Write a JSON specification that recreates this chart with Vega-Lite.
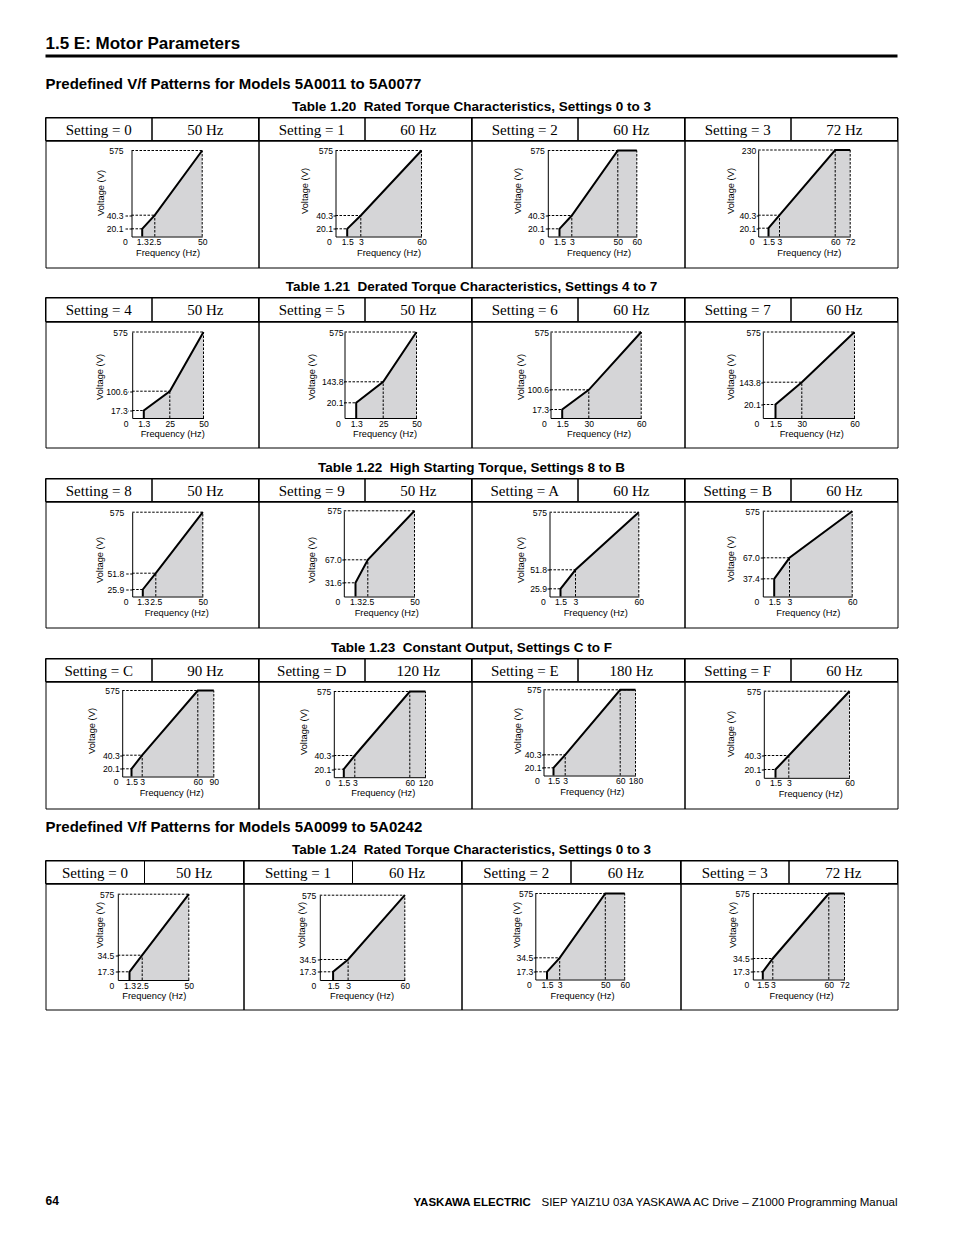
{
"$schema": "https://vega.github.io/schema/vega-lite/v6.json",
"background": "white",
"padding": {"left": 44.5, "top": 0.5, "right": 0, "bottom": 0},
"spacing": 0,
"bounds": "flush",
"datasets": {
"pts": [
{"c":"a0","i":0,"f":1.3,"v":0},{"c":"a0","i":1,"f":1.3,"v":20.1},{"c":"a0","i":2,"f":2.5,"v":40.3},{"c":"a0","i":3,"f":50,"v":575},
{"c":"a1","i":0,"f":1.5,"v":0},{"c":"a1","i":1,"f":1.5,"v":20.1},{"c":"a1","i":2,"f":3,"v":40.3},{"c":"a1","i":3,"f":60,"v":575},
{"c":"a2","i":0,"f":1.5,"v":0},{"c":"a2","i":1,"f":1.5,"v":20.1},{"c":"a2","i":2,"f":3,"v":40.3},{"c":"a2","i":3,"f":50,"v":575},{"c":"a2","i":4,"f":60,"v":575},
{"c":"a3","i":0,"f":1.5,"v":0},{"c":"a3","i":1,"f":1.5,"v":20.1},{"c":"a3","i":2,"f":3,"v":40.3},{"c":"a3","i":3,"f":60,"v":230},{"c":"a3","i":4,"f":72,"v":230},
{"c":"b4","i":0,"f":1.3,"v":0},{"c":"b4","i":1,"f":1.3,"v":17.3},{"c":"b4","i":2,"f":25,"v":100.6},{"c":"b4","i":3,"f":50,"v":575},
{"c":"b5","i":0,"f":1.3,"v":0},{"c":"b5","i":1,"f":1.3,"v":20.1},{"c":"b5","i":2,"f":25,"v":143.8},{"c":"b5","i":3,"f":50,"v":575},
{"c":"b6","i":0,"f":1.5,"v":0},{"c":"b6","i":1,"f":1.5,"v":17.3},{"c":"b6","i":2,"f":30,"v":100.6},{"c":"b6","i":3,"f":60,"v":575},
{"c":"b7","i":0,"f":1.5,"v":0},{"c":"b7","i":1,"f":1.5,"v":20.1},{"c":"b7","i":2,"f":30,"v":143.8},{"c":"b7","i":3,"f":60,"v":575},
{"c":"c8","i":0,"f":1.3,"v":0},{"c":"c8","i":1,"f":1.3,"v":25.9},{"c":"c8","i":2,"f":2.5,"v":51.8},{"c":"c8","i":3,"f":50,"v":575},
{"c":"c9","i":0,"f":1.3,"v":0},{"c":"c9","i":1,"f":1.3,"v":31.6},{"c":"c9","i":2,"f":2.5,"v":67},{"c":"c9","i":3,"f":50,"v":575},
{"c":"cA","i":0,"f":1.5,"v":0},{"c":"cA","i":1,"f":1.5,"v":25.9},{"c":"cA","i":2,"f":3,"v":51.8},{"c":"cA","i":3,"f":60,"v":575},
{"c":"cB","i":0,"f":1.5,"v":0},{"c":"cB","i":1,"f":1.5,"v":37.4},{"c":"cB","i":2,"f":3,"v":67},{"c":"cB","i":3,"f":60,"v":575},
{"c":"dC","i":0,"f":1.5,"v":0},{"c":"dC","i":1,"f":1.5,"v":20.1},{"c":"dC","i":2,"f":3,"v":40.3},{"c":"dC","i":3,"f":60,"v":575},{"c":"dC","i":4,"f":90,"v":575},
{"c":"dD","i":0,"f":1.5,"v":0},{"c":"dD","i":1,"f":1.5,"v":20.1},{"c":"dD","i":2,"f":3,"v":40.3},{"c":"dD","i":3,"f":60,"v":575},{"c":"dD","i":4,"f":120,"v":575},
{"c":"dE","i":0,"f":1.5,"v":0},{"c":"dE","i":1,"f":1.5,"v":20.1},{"c":"dE","i":2,"f":3,"v":40.3},{"c":"dE","i":3,"f":60,"v":575},{"c":"dE","i":4,"f":180,"v":575},
{"c":"dF","i":0,"f":1.5,"v":0},{"c":"dF","i":1,"f":1.5,"v":20.1},{"c":"dF","i":2,"f":3,"v":40.3},{"c":"dF","i":3,"f":60,"v":575},
{"c":"e0","i":0,"f":1.3,"v":0},{"c":"e0","i":1,"f":1.3,"v":17.3},{"c":"e0","i":2,"f":2.5,"v":34.5},{"c":"e0","i":3,"f":50,"v":575},
{"c":"e1","i":0,"f":1.5,"v":0},{"c":"e1","i":1,"f":1.5,"v":17.3},{"c":"e1","i":2,"f":3,"v":34.5},{"c":"e1","i":3,"f":60,"v":575},
{"c":"e2","i":0,"f":1.5,"v":0},{"c":"e2","i":1,"f":1.5,"v":17.3},{"c":"e2","i":2,"f":3,"v":34.5},{"c":"e2","i":3,"f":50,"v":575},{"c":"e2","i":4,"f":60,"v":575},
{"c":"e3","i":0,"f":1.5,"v":0},{"c":"e3","i":1,"f":1.5,"v":17.3},{"c":"e3","i":2,"f":3,"v":34.5},{"c":"e3","i":3,"f":60,"v":575},{"c":"e3","i":4,"f":72,"v":575}
],
"gd": [
{"c":"a0","f":0,"v":20.1,"f2":1.3,"v2":20.1},{"c":"a0","f":0,"v":40.3,"f2":2.5,"v2":40.3},{"c":"a0","f":2.5,"v":0,"f2":2.5,"v2":40.3},{"c":"a0","f":0,"v":575,"f2":50,"v2":575},{"c":"a0","f":50,"v":0,"f2":50,"v2":575},
{"c":"a1","f":0,"v":20.1,"f2":1.5,"v2":20.1},{"c":"a1","f":0,"v":40.3,"f2":3,"v2":40.3},{"c":"a1","f":3,"v":0,"f2":3,"v2":40.3},{"c":"a1","f":0,"v":575,"f2":60,"v2":575},{"c":"a1","f":60,"v":0,"f2":60,"v2":575},
{"c":"a2","f":0,"v":20.1,"f2":1.5,"v2":20.1},{"c":"a2","f":0,"v":40.3,"f2":3,"v2":40.3},{"c":"a2","f":3,"v":0,"f2":3,"v2":40.3},{"c":"a2","f":0,"v":575,"f2":60,"v2":575},{"c":"a2","f":50,"v":0,"f2":50,"v2":575},{"c":"a2","f":60,"v":0,"f2":60,"v2":575},
{"c":"a3","f":0,"v":20.1,"f2":1.5,"v2":20.1},{"c":"a3","f":0,"v":40.3,"f2":3,"v2":40.3},{"c":"a3","f":3,"v":0,"f2":3,"v2":40.3},{"c":"a3","f":0,"v":230,"f2":72,"v2":230},{"c":"a3","f":60,"v":0,"f2":60,"v2":230},{"c":"a3","f":72,"v":0,"f2":72,"v2":230},
{"c":"b4","f":0,"v":17.3,"f2":1.3,"v2":17.3},{"c":"b4","f":0,"v":100.6,"f2":25,"v2":100.6},{"c":"b4","f":25,"v":0,"f2":25,"v2":100.6},{"c":"b4","f":0,"v":575,"f2":50,"v2":575},{"c":"b4","f":50,"v":0,"f2":50,"v2":575},
{"c":"b5","f":0,"v":20.1,"f2":1.3,"v2":20.1},{"c":"b5","f":0,"v":143.8,"f2":25,"v2":143.8},{"c":"b5","f":25,"v":0,"f2":25,"v2":143.8},{"c":"b5","f":0,"v":575,"f2":50,"v2":575},{"c":"b5","f":50,"v":0,"f2":50,"v2":575},
{"c":"b6","f":0,"v":17.3,"f2":1.5,"v2":17.3},{"c":"b6","f":0,"v":100.6,"f2":30,"v2":100.6},{"c":"b6","f":30,"v":0,"f2":30,"v2":100.6},{"c":"b6","f":0,"v":575,"f2":60,"v2":575},{"c":"b6","f":60,"v":0,"f2":60,"v2":575},
{"c":"b7","f":0,"v":20.1,"f2":1.5,"v2":20.1},{"c":"b7","f":0,"v":143.8,"f2":30,"v2":143.8},{"c":"b7","f":30,"v":0,"f2":30,"v2":143.8},{"c":"b7","f":0,"v":575,"f2":60,"v2":575},{"c":"b7","f":60,"v":0,"f2":60,"v2":575},
{"c":"c8","f":0,"v":25.9,"f2":1.3,"v2":25.9},{"c":"c8","f":0,"v":51.8,"f2":2.5,"v2":51.8},{"c":"c8","f":2.5,"v":0,"f2":2.5,"v2":51.8},{"c":"c8","f":0,"v":575,"f2":50,"v2":575},{"c":"c8","f":50,"v":0,"f2":50,"v2":575},
{"c":"c9","f":0,"v":31.6,"f2":1.3,"v2":31.6},{"c":"c9","f":0,"v":67,"f2":2.5,"v2":67},{"c":"c9","f":2.5,"v":0,"f2":2.5,"v2":67},{"c":"c9","f":0,"v":575,"f2":50,"v2":575},{"c":"c9","f":50,"v":0,"f2":50,"v2":575},
{"c":"cA","f":0,"v":25.9,"f2":1.5,"v2":25.9},{"c":"cA","f":0,"v":51.8,"f2":3,"v2":51.8},{"c":"cA","f":3,"v":0,"f2":3,"v2":51.8},{"c":"cA","f":0,"v":575,"f2":60,"v2":575},{"c":"cA","f":60,"v":0,"f2":60,"v2":575},
{"c":"cB","f":0,"v":37.4,"f2":1.5,"v2":37.4},{"c":"cB","f":0,"v":67,"f2":3,"v2":67},{"c":"cB","f":3,"v":0,"f2":3,"v2":67},{"c":"cB","f":0,"v":575,"f2":60,"v2":575},{"c":"cB","f":60,"v":0,"f2":60,"v2":575},
{"c":"dC","f":0,"v":20.1,"f2":1.5,"v2":20.1},{"c":"dC","f":0,"v":40.3,"f2":3,"v2":40.3},{"c":"dC","f":3,"v":0,"f2":3,"v2":40.3},{"c":"dC","f":0,"v":575,"f2":90,"v2":575},{"c":"dC","f":60,"v":0,"f2":60,"v2":575},{"c":"dC","f":90,"v":0,"f2":90,"v2":575},
{"c":"dD","f":0,"v":20.1,"f2":1.5,"v2":20.1},{"c":"dD","f":0,"v":40.3,"f2":3,"v2":40.3},{"c":"dD","f":3,"v":0,"f2":3,"v2":40.3},{"c":"dD","f":0,"v":575,"f2":120,"v2":575},{"c":"dD","f":60,"v":0,"f2":60,"v2":575},{"c":"dD","f":120,"v":0,"f2":120,"v2":575},
{"c":"dE","f":0,"v":20.1,"f2":1.5,"v2":20.1},{"c":"dE","f":0,"v":40.3,"f2":3,"v2":40.3},{"c":"dE","f":3,"v":0,"f2":3,"v2":40.3},{"c":"dE","f":0,"v":575,"f2":180,"v2":575},{"c":"dE","f":60,"v":0,"f2":60,"v2":575},{"c":"dE","f":180,"v":0,"f2":180,"v2":575},
{"c":"dF","f":0,"v":20.1,"f2":1.5,"v2":20.1},{"c":"dF","f":0,"v":40.3,"f2":3,"v2":40.3},{"c":"dF","f":3,"v":0,"f2":3,"v2":40.3},{"c":"dF","f":0,"v":575,"f2":60,"v2":575},{"c":"dF","f":60,"v":0,"f2":60,"v2":575},
{"c":"e0","f":0,"v":17.3,"f2":1.3,"v2":17.3},{"c":"e0","f":0,"v":34.5,"f2":2.5,"v2":34.5},{"c":"e0","f":2.5,"v":0,"f2":2.5,"v2":34.5},{"c":"e0","f":0,"v":575,"f2":50,"v2":575},{"c":"e0","f":50,"v":0,"f2":50,"v2":575},
{"c":"e1","f":0,"v":17.3,"f2":1.5,"v2":17.3},{"c":"e1","f":0,"v":34.5,"f2":3,"v2":34.5},{"c":"e1","f":3,"v":0,"f2":3,"v2":34.5},{"c":"e1","f":0,"v":575,"f2":60,"v2":575},{"c":"e1","f":60,"v":0,"f2":60,"v2":575},
{"c":"e2","f":0,"v":17.3,"f2":1.5,"v2":17.3},{"c":"e2","f":0,"v":34.5,"f2":3,"v2":34.5},{"c":"e2","f":3,"v":0,"f2":3,"v2":34.5},{"c":"e2","f":0,"v":575,"f2":60,"v2":575},{"c":"e2","f":50,"v":0,"f2":50,"v2":575},{"c":"e2","f":60,"v":0,"f2":60,"v2":575},
{"c":"e3","f":0,"v":17.3,"f2":1.5,"v2":17.3},{"c":"e3","f":0,"v":34.5,"f2":3,"v2":34.5},{"c":"e3","f":3,"v":0,"f2":3,"v2":34.5},{"c":"e3","f":0,"v":575,"f2":72,"v2":575},{"c":"e3","f":60,"v":0,"f2":60,"v2":575},{"c":"e3","f":72,"v":0,"f2":72,"v2":575}
]
},
"vconcat": [
{"width":852,"height":54,"data":{"values":[]},"mark":"rect","view":{"stroke":null}},
{"width":852,"height":3,"data":{"values":[{}]},"mark":{"type":"rect","color":"black"},"view":{"stroke":null},"title":{"text":"1.5 E: Motor Parameters","anchor":"start","frame":"group","fontSize":17,"offset":1.6}},
{"width":852,"height":40,"data":{"values":[]},"mark":"rect","view":{"stroke":null}},
{"width":852,"height":18,"data":{"values":[]},"mark":"rect","view":{"stroke":null},"title":{"text":"Predefined V/f Patterns for Models 5A0011 to 5A0077","anchor":"start","frame":"group","fontSize":15,"offset":5.5}},
{"width":852,"height":2,"data":{"values":[]},"mark":"rect","view":{"stroke":null},"title":{"text":"Table 1.20\u00a0 Rated Torque Characteristics, Settings 0 to 3","anchor":"middle","frame":"group","offset":2.5}},
{"spacing":0,"bounds":"flush","hconcat":[
{"width":213,"height":23,"data":{"values":[{"k":"a","t":"Setting = 0"},{"k":"b","t":"50 Hz"}]},"encoding":{"x":{"field":"k","type":"nominal","scale":{"paddingInner":0,"paddingOuter":0},"axis":null}},"layer":[{"mark":{"type":"rect","filled":false,"color":"black","strokeWidth":1}},{"mark":{"type":"text","font":"Liberation Serif","fontSize":15,"color":"black","dy":0.5}, "encoding":{"text":{"field":"t"}}}]},
{"width":213,"height":23,"data":{"values":[{"k":"a","t":"Setting = 1"},{"k":"b","t":"60 Hz"}]},"encoding":{"x":{"field":"k","type":"nominal","scale":{"paddingInner":0,"paddingOuter":0},"axis":null}},"layer":[{"mark":{"type":"rect","filled":false,"color":"black","strokeWidth":1}},{"mark":{"type":"text","font":"Liberation Serif","fontSize":15,"color":"black","dy":0.5},"encoding":{"text":{"field":"t"}}}]},
{"width":213,"height":23,"data":{"values":[{"k":"a","t":"Setting = 2"},{"k":"b","t":"60 Hz"}]},"encoding":{"x":{"field":"k","type":"nominal","scale":{"paddingInner":0,"paddingOuter":0},"axis":null}},"layer":[{"mark":{"type":"rect","filled":false,"color":"black","strokeWidth":1}},{"mark":{"type":"text","font":"Liberation Serif","fontSize":15,"color":"black","dy":0.5},"encoding":{"text":{"field":"t"}}}]},
{"width":213,"height":23,"data":{"values":[{"k":"a","t":"Setting = 3"},{"k":"b","t":"72 Hz"}]},"encoding":{"x":{"field":"k","type":"nominal","scale":{"paddingInner":0,"paddingOuter":0},"axis":null}},"layer":[{"mark":{"type":"rect","filled":false,"color":"black","strokeWidth":1}},{"mark":{"type":"text","font":"Liberation Serif","fontSize":15,"color":"black","dy":0.5},"encoding":{"text":{"field":"t"}}}]}
]},
{"width":852,"height":23,"data":{"values":[]},"mark":"rect","view":{"stroke":null}},
{"spacing":0,"bounds":"flush","hconcat":[
{"width":213,"height":127,"encoding":{"x":{"field":"f","type":"quantitative","scale":{"domain":[0,1.3,2.5,50],"range":[86,96.7,109.3,156.7],"nice":false,"zero":false},"axis":{"values":[0,1.3,2.5,50],"format":".1~f","offset":-31,"title":"Frequency (Hz)","titleX":122,"titleY":15.5,"zindex":1,"labelOffset":{"condition":{"test":"datum.value===0","value":-6.5},"value":0}}},"y":{"field":"v","type":"quantitative","scale":{"domain":[0,20.1,40.3,575],"range":[96,88.3,74.7,10],"nice":false,"zero":false},"axis":{"values":[20.1,40.3,575],"labelExpr":"datum.value>200?format(datum.value,'d'):format(datum.value,'.1f')","offset":-86,"tickSize":8,"tickOpacity":{"condition":{"test":"datum.value>200","value":0},"value":1},"title":"Voltage (V)","titleX":-31,"titleY":52,"zindex":1}}},"layer":[{"data":{"name":"pts"},"transform":[{"filter":"datum.c==='a0' && datum.i>0"}],"mark":{"type":"area","color":"#d5d5d7","opacity":1},"encoding":{"y2":{"datum":0}}},{"data":{"name":"gd"},"transform":[{"filter":"datum.c==='a0'"}],"mark":{"type":"rule","color":"black","strokeWidth":1,"strokeDash":[2.5,1.5]},"encoding":{"x2":{"field":"f2"},"y2":{"field":"v2"}}},{"data":{"name":"pts"},"transform":[{"filter":"datum.c==='a0'"}],"mark":{"type":"line","color":"black","strokeWidth":2},"encoding":{"order":{"field":"i","type":"quantitative"}}}]},
{"width":213,"height":127,"encoding":{"x":{"field":"f","type":"quantitative","scale":{"domain":[0,1.5,3,60],"range":[77,88.7,102.3,163],"nice":false,"zero":false},"axis":{"values":[0,1.5,3,60],"format":".1~f","offset":-31,"title":"Frequency (Hz)","titleX":130,"titleY":15.5,"zindex":1,"labelOffset":{"condition":{"test":"datum.value===0","value":-6.5},"value":0}}},"y":{"field":"v","type":"quantitative","scale":{"domain":[0,20.1,40.3,575],"range":[96,88.3,75,10],"nice":false,"zero":false},"axis":{"values":[20.1,40.3,575],"labelExpr":"datum.value>200?format(datum.value,'d'):format(datum.value,'.1f')","offset":-77,"tickSize":2.5,"tickOpacity":{"condition":{"test":"datum.value>200","value":0},"value":1},"title":"Voltage (V)","titleX":-31.5,"titleY":50,"zindex":1}}},"layer":[{"data":{"name":"pts"},"transform":[{"filter":"datum.c==='a1' && datum.i>0"}],"mark":{"type":"area","color":"#d5d5d7","opacity":1},"encoding":{"y2":{"datum":0}}},{"data":{"name":"gd"},"transform":[{"filter":"datum.c==='a1'"}],"mark":{"type":"rule","color":"black","strokeWidth":1,"strokeDash":[2.5,1.5]},"encoding":{"x2":{"field":"f2"},"y2":{"field":"v2"}}},{"data":{"name":"pts"},"transform":[{"filter":"datum.c==='a1'"}],"mark":{"type":"line","color":"black","strokeWidth":2},"encoding":{"order":{"field":"i","type":"quantitative"}}}]},
{"width":213,"height":127,"encoding":{"x":{"field":"f","type":"quantitative","scale":{"domain":[0,1.5,3,50,60],"range":[76.3,88,100.3,146.3,165.3],"nice":false,"zero":false},"axis":{"values":[0,1.5,3,50,60],"format":".1~f","offset":-31,"title":"Frequency (Hz)","titleX":127,"titleY":15.5,"zindex":1,"labelOffset":{"condition":{"test":"datum.value===0","value":-6.5},"value":0}}},"y":{"field":"v","type":"quantitative","scale":{"domain":[0,20.1,40.3,575],"range":[96,88.3,75,10],"nice":false,"zero":false},"axis":{"values":[20.1,40.3,575],"labelExpr":"datum.value>200?format(datum.value,'d'):format(datum.value,'.1f')","offset":-76.3,"tickSize":3,"tickOpacity":{"condition":{"test":"datum.value>200","value":0},"value":1},"title":"Voltage (V)","titleX":-30.8,"titleY":50,"zindex":1}}},"layer":[{"data":{"name":"pts"},"transform":[{"filter":"datum.c==='a2' && datum.i>0"}],"mark":{"type":"area","color":"#d5d5d7","opacity":1},"encoding":{"y2":{"datum":0}}},{"data":{"name":"gd"},"transform":[{"filter":"datum.c==='a2'"}],"mark":{"type":"rule","color":"black","strokeWidth":1,"strokeDash":[2.5,1.5]},"encoding":{"x2":{"field":"f2"},"y2":{"field":"v2"}}},{"data":{"name":"pts"},"transform":[{"filter":"datum.c==='a2'"}],"mark":{"type":"line","color":"black","strokeWidth":2},"encoding":{"order":{"field":"i","type":"quantitative"}}}]},
{"width":213,"height":127,"encoding":{"x":{"field":"f","type":"quantitative","scale":{"domain":[0,1.5,3,60,72],"range":[73.7,84,95,150.7,165.7],"nice":false,"zero":false},"axis":{"values":[0,1.5,3,60,72],"format":".1~f","offset":-31,"title":"Frequency (Hz)","titleX":124.3,"titleY":15.5,"zindex":1,"labelOffset":{"condition":{"test":"datum.value===0","value":-6.5},"value":0}}},"y":{"field":"v","type":"quantitative","scale":{"domain":[0,20.1,40.3,230],"range":[96,87.7,74.7,9.5],"nice":false,"zero":false},"axis":{"values":[20.1,40.3,230],"labelExpr":"datum.value>200?format(datum.value,'d'):format(datum.value,'.1f')","offset":-73.7,"tickSize":2,"tickOpacity":{"condition":{"test":"datum.value>200","value":0},"value":1},"title":"Voltage (V)","titleX":-28,"titleY":50,"zindex":1}}},"layer":[{"data":{"name":"pts"},"transform":[{"filter":"datum.c==='a3' && datum.i>0"}],"mark":{"type":"area","color":"#d5d5d7","opacity":1},"encoding":{"y2":{"datum":0}}},{"data":{"name":"gd"},"transform":[{"filter":"datum.c==='a3'"}],"mark":{"type":"rule","color":"black","strokeWidth":1,"strokeDash":[2.5,1.5]},"encoding":{"x2":{"field":"f2"},"y2":{"field":"v2"}}},{"data":{"name":"pts"},"transform":[{"filter":"datum.c==='a3'"}],"mark":{"type":"line","color":"black","strokeWidth":2},"encoding":{"order":{"field":"i","type":"quantitative"}}}]}
]},
{"width":852,"height":127,"data":{"values":[]},"mark":"rect","view":{"stroke":null}},
{"width":852,"height":28,"data":{"values":[]},"mark":"rect","view":{"stroke":null}},
{"width":852,"height":2,"data":{"values":[]},"mark":"rect","view":{"stroke":null},"title":{"text":"Table 1.21\u00a0 Derated Torque Characteristics, Settings 4 to 7","anchor":"middle","frame":"group","offset":2.5}},
{"spacing":0,"bounds":"flush","hconcat":[
{"width":213,"height":24,"data":{"values":[{"k":"a","t":"Setting = 4"},{"k":"b","t":"50 Hz"}]},"encoding":{"x":{"field":"k","type":"nominal","scale":{"paddingInner":0,"paddingOuter":0},"axis":null}},"layer":[{"mark":{"type":"rect","filled":false,"color":"black","strokeWidth":1}},{"mark":{"type":"text","font":"Liberation Serif","fontSize":15,"color":"black","dy":0.5},"encoding":{"text":{"field":"t"}}}]},
{"width":213,"height":24,"data":{"values":[{"k":"a","t":"Setting = 5"},{"k":"b","t":"50 Hz"}]},"encoding":{"x":{"field":"k","type":"nominal","scale":{"paddingInner":0,"paddingOuter":0},"axis":null}},"layer":[{"mark":{"type":"rect","filled":false,"color":"black","strokeWidth":1}},{"mark":{"type":"text","font":"Liberation Serif","fontSize":15,"color":"black","dy":0.5},"encoding":{"text":{"field":"t"}}}]},
{"width":213,"height":24,"data":{"values":[{"k":"a","t":"Setting = 6"},{"k":"b","t":"60 Hz"}]},"encoding":{"x":{"field":"k","type":"nominal","scale":{"paddingInner":0,"paddingOuter":0},"axis":null}},"layer":[{"mark":{"type":"rect","filled":false,"color":"black","strokeWidth":1}},{"mark":{"type":"text","font":"Liberation Serif","fontSize":15,"color":"black","dy":0.5},"encoding":{"text":{"field":"t"}}}]},
{"width":213,"height":24,"data":{"values":[{"k":"a","t":"Setting = 7"},{"k":"b","t":"60 Hz"}]},"encoding":{"x":{"field":"k","type":"nominal","scale":{"paddingInner":0,"paddingOuter":0},"axis":null}},"layer":[{"mark":{"type":"rect","filled":false,"color":"black","strokeWidth":1}},{"mark":{"type":"text","font":"Liberation Serif","fontSize":15,"color":"black","dy":0.5},"encoding":{"text":{"field":"t"}}}]}
]},
{"width":852,"height":24,"data":{"values":[]},"mark":"rect","view":{"stroke":null}},
{"spacing":0,"bounds":"flush","hconcat":[
{"width":213,"height":126,"encoding":{"x":{"field":"f","type":"quantitative","scale":{"domain":[0,1.3,25,50],"range":[86.7,98.3,124.3,158],"nice":false,"zero":false},"axis":{"values":[0,1.3,25,50],"format":".1~f","offset":-29.5,"title":"Frequency (Hz)","titleX":126.7,"titleY":15.5,"zindex":1,"labelOffset":{"condition":{"test":"datum.value===0","value":-6.5},"value":0}}},"y":{"field":"v","type":"quantitative","scale":{"domain":[0,17.3,100.6,575],"range":[96.5,89,69.7,10.5],"nice":false,"zero":false},"axis":{"values":[17.3,100.6,575],"labelExpr":"datum.value>200?format(datum.value,'d'):format(datum.value,'.1f')","offset":-86.7,"tickSize":4.5,"tickOpacity":{"condition":{"test":"datum.value>200","value":0},"value":1},"title":"Voltage (V)","titleX":-32.5,"titleY":55,"zindex":1}}},"layer":[{"data":{"name":"pts"},"transform":[{"filter":"datum.c==='b4' && datum.i>0"}],"mark":{"type":"area","color":"#d5d5d7","opacity":1},"encoding":{"y2":{"datum":0}}},{"data":{"name":"gd"},"transform":[{"filter":"datum.c==='b4'"}],"mark":{"type":"rule","color":"black","strokeWidth":1,"strokeDash":[2.5,1.5]},"encoding":{"x2":{"field":"f2"},"y2":{"field":"v2"}}},{"data":{"name":"pts"},"transform":[{"filter":"datum.c==='b4'"}],"mark":{"type":"line","color":"black","strokeWidth":2},"encoding":{"order":{"field":"i","type":"quantitative"}}}]},
{"width":213,"height":126,"encoding":{"x":{"field":"f","type":"quantitative","scale":{"domain":[0,1.3,25,50],"range":[86,97.7,124.7,158],"nice":false,"zero":false},"axis":{"values":[0,1.3,25,50],"format":".1~f","offset":-29.5,"title":"Frequency (Hz)","titleX":126,"titleY":15.5,"zindex":1,"labelOffset":{"condition":{"test":"datum.value===0","value":-6.5},"value":0}}},"y":{"field":"v","type":"quantitative","scale":{"domain":[0,20.1,143.8,575],"range":[96.5,81.3,60.3,10.5],"nice":false,"zero":false},"axis":{"values":[20.1,143.8,575],"labelExpr":"datum.value>200?format(datum.value,'d'):format(datum.value,'.1f')","offset":-86,"tickSize":1,"tickOpacity":{"condition":{"test":"datum.value>200","value":0},"value":1},"title":"Voltage (V)","titleX":-33,"titleY":55,"zindex":1}}},"layer":[{"data":{"name":"pts"},"transform":[{"filter":"datum.c==='b5' && datum.i>0"}],"mark":{"type":"area","color":"#d5d5d7","opacity":1},"encoding":{"y2":{"datum":0}}},{"data":{"name":"gd"},"transform":[{"filter":"datum.c==='b5'"}],"mark":{"type":"rule","color":"black","strokeWidth":1,"strokeDash":[2.5,1.5]},"encoding":{"x2":{"field":"f2"},"y2":{"field":"v2"}}},{"data":{"name":"pts"},"transform":[{"filter":"datum.c==='b5'"}],"mark":{"type":"line","color":"black","strokeWidth":2},"encoding":{"order":{"field":"i","type":"quantitative"}}}]},
{"width":213,"height":126,"encoding":{"x":{"field":"f","type":"quantitative","scale":{"domain":[0,1.5,30,60],"range":[79,90.7,117.3,169.7],"nice":false,"zero":false},"axis":{"values":[0,1.5,30,60],"format":".1~f","offset":-29.5,"title":"Frequency (Hz)","titleX":127,"titleY":15.5,"zindex":1,"labelOffset":{"condition":{"test":"datum.value===0","value":-6.5},"value":0}}},"y":{"field":"v","type":"quantitative","scale":{"domain":[0,17.3,100.6,575],"range":[96.5,88,68.3,10.5],"nice":false,"zero":false},"axis":{"values":[17.3,100.6,575],"labelExpr":"datum.value>200?format(datum.value,'d'):format(datum.value,'.1f')","offset":-79,"tickSize":1.5,"tickOpacity":{"condition":{"test":"datum.value>200","value":0},"value":1},"title":"Voltage (V)","titleX":-30.2,"titleY":55,"zindex":1}}},"layer":[{"data":{"name":"pts"},"transform":[{"filter":"datum.c==='b6' && datum.i>0"}],"mark":{"type":"area","color":"#d5d5d7","opacity":1},"encoding":{"y2":{"datum":0}}},{"data":{"name":"gd"},"transform":[{"filter":"datum.c==='b6'"}],"mark":{"type":"rule","color":"black","strokeWidth":1,"strokeDash":[2.5,1.5]},"encoding":{"x2":{"field":"f2"},"y2":{"field":"v2"}}},{"data":{"name":"pts"},"transform":[{"filter":"datum.c==='b6'"}],"mark":{"type":"line","color":"black","strokeWidth":2},"encoding":{"order":{"field":"i","type":"quantitative"}}}]},
{"width":213,"height":126,"encoding":{"x":{"field":"f","type":"quantitative","scale":{"domain":[0,1.5,30,60],"range":[78.3,91,117.3,170],"nice":false,"zero":false},"axis":{"values":[0,1.5,30,60],"format":".1~f","offset":-29.5,"title":"Frequency (Hz)","titleX":126.7,"titleY":15.5,"zindex":1,"labelOffset":{"condition":{"test":"datum.value===0","value":-6.5},"value":0}}},"y":{"field":"v","type":"quantitative","scale":{"domain":[0,20.1,143.8,575],"range":[96.5,83,60.7,10.5],"nice":false,"zero":false},"axis":{"values":[20.1,143.8,575],"labelExpr":"datum.value>200?format(datum.value,'d'):format(datum.value,'.1f')","offset":-78.3,"tickSize":2,"tickOpacity":{"condition":{"test":"datum.value>200","value":0},"value":1},"title":"Voltage (V)","titleX":-32.5,"titleY":55,"zindex":1}}},"layer":[{"data":{"name":"pts"},"transform":[{"filter":"datum.c==='b7' && datum.i>0"}],"mark":{"type":"area","color":"#d5d5d7","opacity":1},"encoding":{"y2":{"datum":0}}},{"data":{"name":"gd"},"transform":[{"filter":"datum.c==='b7'"}],"mark":{"type":"rule","color":"black","strokeWidth":1,"strokeDash":[2.5,1.5]},"encoding":{"x2":{"field":"f2"},"y2":{"field":"v2"}}},{"data":{"name":"pts"},"transform":[{"filter":"datum.c==='b7'"}],"mark":{"type":"line","color":"black","strokeWidth":2},"encoding":{"order":{"field":"i","type":"quantitative"}}}]}
]},
{"width":852,"height":126,"data":{"values":[]},"mark":"rect","view":{"stroke":null}},
{"width":852,"height":29,"data":{"values":[]},"mark":"rect","view":{"stroke":null}},
{"width":852,"height":2,"data":{"values":[]},"mark":"rect","view":{"stroke":null},"title":{"text":"Table 1.22\u00a0 High Starting Torque, Settings 8 to B","anchor":"middle","frame":"group","offset":2.5}},
{"spacing":0,"bounds":"flush","hconcat":[
{"width":213,"height":23,"data":{"values":[{"k":"a","t":"Setting = 8"},{"k":"b","t":"50 Hz"}]},"encoding":{"x":{"field":"k","type":"nominal","scale":{"paddingInner":0,"paddingOuter":0},"axis":null}},"layer":[{"mark":{"type":"rect","filled":false,"color":"black","strokeWidth":1}},{"mark":{"type":"text","font":"Liberation Serif","fontSize":15,"color":"black","dy":0.5},"encoding":{"text":{"field":"t"}}}]},
{"width":213,"height":23,"data":{"values":[{"k":"a","t":"Setting = 9"},{"k":"b","t":"50 Hz"}]},"encoding":{"x":{"field":"k","type":"nominal","scale":{"paddingInner":0,"paddingOuter":0},"axis":null}},"layer":[{"mark":{"type":"rect","filled":false,"color":"black","strokeWidth":1}},{"mark":{"type":"text","font":"Liberation Serif","fontSize":15,"color":"black","dy":0.5},"encoding":{"text":{"field":"t"}}}]},
{"width":213,"height":23,"data":{"values":[{"k":"a","t":"Setting = A"},{"k":"b","t":"60 Hz"}]},"encoding":{"x":{"field":"k","type":"nominal","scale":{"paddingInner":0,"paddingOuter":0},"axis":null}},"layer":[{"mark":{"type":"rect","filled":false,"color":"black","strokeWidth":1}},{"mark":{"type":"text","font":"Liberation Serif","fontSize":15,"color":"black","dy":0.5},"encoding":{"text":{"field":"t"}}}]},
{"width":213,"height":23,"data":{"values":[{"k":"a","t":"Setting = B"},{"k":"b","t":"60 Hz"}]},"encoding":{"x":{"field":"k","type":"nominal","scale":{"paddingInner":0,"paddingOuter":0},"axis":null}},"layer":[{"mark":{"type":"rect","filled":false,"color":"black","strokeWidth":1}},{"mark":{"type":"text","font":"Liberation Serif","fontSize":15,"color":"black","dy":0.5},"encoding":{"text":{"field":"t"}}}]}
]},
{"width":852,"height":23,"data":{"values":[]},"mark":"rect","view":{"stroke":null}},
{"spacing":0,"bounds":"flush","hconcat":[
{"width":213,"height":126,"encoding":{"x":{"field":"f","type":"quantitative","scale":{"domain":[0,1.3,2.5,50],"range":[86.7,97.3,110.3,157.3],"nice":false,"zero":false},"axis":{"values":[0,1.3,2.5,50],"format":".1~f","offset":-31,"title":"Frequency (Hz)","titleX":130.7,"titleY":15.5,"zindex":1,"labelOffset":{"condition":{"test":"datum.value===0","value":-6.5},"value":0}}},"y":{"field":"v","type":"quantitative","scale":{"domain":[0,25.9,51.8,575],"range":[95,88,71.7,10.7],"nice":false,"zero":false},"axis":{"values":[25.9,51.8,575],"labelExpr":"datum.value>200?format(datum.value,'d'):format(datum.value,'.1f')","offset":-86.7,"tickSize":8,"tickOpacity":{"condition":{"test":"datum.value>200","value":0},"value":1},"title":"Voltage (V)","titleX":-32.5,"titleY":58,"zindex":1}}},"layer":[{"data":{"name":"pts"},"transform":[{"filter":"datum.c==='c8' && datum.i>0"}],"mark":{"type":"area","color":"#d5d5d7","opacity":1},"encoding":{"y2":{"datum":0}}},{"data":{"name":"gd"},"transform":[{"filter":"datum.c==='c8'"}],"mark":{"type":"rule","color":"black","strokeWidth":1,"strokeDash":[2.5,1.5]},"encoding":{"x2":{"field":"f2"},"y2":{"field":"v2"}}},{"data":{"name":"pts"},"transform":[{"filter":"datum.c==='c8'"}],"mark":{"type":"line","color":"black","strokeWidth":2},"encoding":{"order":{"field":"i","type":"quantitative"}}}]},
{"width":213,"height":126,"encoding":{"x":{"field":"f","type":"quantitative","scale":{"domain":[0,1.3,2.5,50],"range":[85.3,97,109.3,156],"nice":false,"zero":false},"axis":{"values":[0,1.3,2.5,50],"format":".1~f","offset":-31,"title":"Frequency (Hz)","titleX":127.7,"titleY":15.5,"zindex":1,"labelOffset":{"condition":{"test":"datum.value===0","value":-6.5},"value":0}}},"y":{"field":"v","type":"quantitative","scale":{"domain":[0,31.6,67,575],"range":[95,81.3,58.3,9.3],"nice":false,"zero":false},"axis":{"values":[31.6,67,575],"labelExpr":"datum.value>200?format(datum.value,'d'):format(datum.value,'.1f')","offset":-85.3,"tickSize":2,"tickOpacity":{"condition":{"test":"datum.value>200","value":0},"value":1},"title":"Voltage (V)","titleX":-32.5,"titleY":58,"zindex":1}}},"layer":[{"data":{"name":"pts"},"transform":[{"filter":"datum.c==='c9' && datum.i>0"}],"mark":{"type":"area","color":"#d5d5d7","opacity":1},"encoding":{"y2":{"datum":0}}},{"data":{"name":"gd"},"transform":[{"filter":"datum.c==='c9'"}],"mark":{"type":"rule","color":"black","strokeWidth":1,"strokeDash":[2.5,1.5]},"encoding":{"x2":{"field":"f2"},"y2":{"field":"v2"}}},{"data":{"name":"pts"},"transform":[{"filter":"datum.c==='c9'"}],"mark":{"type":"line","color":"black","strokeWidth":2},"encoding":{"order":{"field":"i","type":"quantitative"}}}]},
{"width":213,"height":126,"encoding":{"x":{"field":"f","type":"quantitative","scale":{"domain":[0,1.5,3,60],"range":[78,89,104,167.3],"nice":false,"zero":false},"axis":{"values":[0,1.5,3,60],"format":".1~f","offset":-31,"title":"Frequency (Hz)","titleX":123.7,"titleY":15.5,"zindex":1,"labelOffset":{"condition":{"test":"datum.value===0","value":-6.5},"value":0}}},"y":{"field":"v","type":"quantitative","scale":{"domain":[0,25.9,51.8,575],"range":[95,87.3,68.3,10.7],"nice":false,"zero":false},"axis":{"values":[25.9,51.8,575],"labelExpr":"datum.value>200?format(datum.value,'d'):format(datum.value,'.1f')","offset":-78,"tickSize":2.5,"tickOpacity":{"condition":{"test":"datum.value>200","value":0},"value":1},"title":"Voltage (V)","titleX":-29.2,"titleY":58,"zindex":1}}},"layer":[{"data":{"name":"pts"},"transform":[{"filter":"datum.c==='cA' && datum.i>0"}],"mark":{"type":"area","color":"#d5d5d7","opacity":1},"encoding":{"y2":{"datum":0}}},{"data":{"name":"gd"},"transform":[{"filter":"datum.c==='cA'"}],"mark":{"type":"rule","color":"black","strokeWidth":1,"strokeDash":[2.5,1.5]},"encoding":{"x2":{"field":"f2"},"y2":{"field":"v2"}}},{"data":{"name":"pts"},"transform":[{"filter":"datum.c==='cA'"}],"mark":{"type":"line","color":"black","strokeWidth":2},"encoding":{"order":{"field":"i","type":"quantitative"}}}]},
{"width":213,"height":126,"encoding":{"x":{"field":"f","type":"quantitative","scale":{"domain":[0,1.5,3,60],"range":[78.3,89.7,105,167.7],"nice":false,"zero":false},"axis":{"values":[0,1.5,3,60],"format":".1~f","offset":-31,"title":"Frequency (Hz)","titleX":123.3,"titleY":15.5,"zindex":1,"labelOffset":{"condition":{"test":"datum.value===0","value":-6.5},"value":0}}},"y":{"field":"v","type":"quantitative","scale":{"domain":[0,37.4,67,575],"range":[95,77.3,56.3,9.7],"nice":false,"zero":false},"axis":{"values":[37.4,67,575],"labelExpr":"datum.value>200?format(datum.value,'d'):format(datum.value,'.1f')","offset":-78.3,"tickSize":3,"tickOpacity":{"condition":{"test":"datum.value>200","value":0},"value":1},"title":"Voltage (V)","titleX":-32.5,"titleY":57,"zindex":1}}},"layer":[{"data":{"name":"pts"},"transform":[{"filter":"datum.c==='cB' && datum.i>0"}],"mark":{"type":"area","color":"#d5d5d7","opacity":1},"encoding":{"y2":{"datum":0}}},{"data":{"name":"gd"},"transform":[{"filter":"datum.c==='cB'"}],"mark":{"type":"rule","color":"black","strokeWidth":1,"strokeDash":[2.5,1.5]},"encoding":{"x2":{"field":"f2"},"y2":{"field":"v2"}}},{"data":{"name":"pts"},"transform":[{"filter":"datum.c==='cB'"}],"mark":{"type":"line","color":"black","strokeWidth":2},"encoding":{"order":{"field":"i","type":"quantitative"}}}]}
]},
{"width":852,"height":126,"data":{"values":[]},"mark":"rect","view":{"stroke":null}},
{"width":852,"height":29,"data":{"values":[]},"mark":"rect","view":{"stroke":null}},
{"width":852,"height":2,"data":{"values":[]},"mark":"rect","view":{"stroke":null},"title":{"text":"Table 1.23\u00a0 Constant Output, Settings C to F","anchor":"middle","frame":"group","offset":2.5}},
{"spacing":0,"bounds":"flush","hconcat":[
{"width":213,"height":23,"data":{"values":[{"k":"a","t":"Setting = C"},{"k":"b","t":"90 Hz"}]},"encoding":{"x":{"field":"k","type":"nominal","scale":{"paddingInner":0,"paddingOuter":0},"axis":null}},"layer":[{"mark":{"type":"rect","filled":false,"color":"black","strokeWidth":1}},{"mark":{"type":"text","font":"Liberation Serif","fontSize":15,"color":"black","dy":0.5},"encoding":{"text":{"field":"t"}}}]},
{"width":213,"height":23,"data":{"values":[{"k":"a","t":"Setting = D"},{"k":"b","t":"120 Hz"}]},"encoding":{"x":{"field":"k","type":"nominal","scale":{"paddingInner":0,"paddingOuter":0},"axis":null}},"layer":[{"mark":{"type":"rect","filled":false,"color":"black","strokeWidth":1}},{"mark":{"type":"text","font":"Liberation Serif","fontSize":15,"color":"black","dy":0.5},"encoding":{"text":{"field":"t"}}}]},
{"width":213,"height":23,"data":{"values":[{"k":"a","t":"Setting = E"},{"k":"b","t":"180 Hz"}]},"encoding":{"x":{"field":"k","type":"nominal","scale":{"paddingInner":0,"paddingOuter":0},"axis":null}},"layer":[{"mark":{"type":"rect","filled":false,"color":"black","strokeWidth":1}},{"mark":{"type":"text","font":"Liberation Serif","fontSize":15,"color":"black","dy":0.5},"encoding":{"text":{"field":"t"}}}]},
{"width":213,"height":23,"data":{"values":[{"k":"a","t":"Setting = F"},{"k":"b","t":"60 Hz"}]},"encoding":{"x":{"field":"k","type":"nominal","scale":{"paddingInner":0,"paddingOuter":0},"axis":null}},"layer":[{"mark":{"type":"rect","filled":false,"color":"black","strokeWidth":1}},{"mark":{"type":"text","font":"Liberation Serif","fontSize":15,"color":"black","dy":0.5},"encoding":{"text":{"field":"t"}}}]}
]},
{"width":852,"height":23,"data":{"values":[]},"mark":"rect","view":{"stroke":null}},
{"spacing":0,"bounds":"flush","hconcat":[
{"width":213,"height":127,"encoding":{"x":{"field":"f","type":"quantitative","scale":{"domain":[0,1.5,3,60,90],"range":[76.7,86,96.7,152.3,168.3],"nice":false,"zero":false},"axis":{"values":[0,1.5,3,60,90],"format":".1~f","offset":-32,"title":"Frequency (Hz)","titleX":125.7,"titleY":15.5,"zindex":1,"labelOffset":{"condition":{"test":"datum.value===0","value":-6.5},"value":0}}},"y":{"field":"v","type":"quantitative","scale":{"domain":[0,20.1,40.3,575],"range":[95,87.3,73.7,9],"nice":false,"zero":false},"axis":{"values":[20.1,40.3,575],"labelExpr":"datum.value>200?format(datum.value,'d'):format(datum.value,'.1f')","offset":-76.7,"tickSize":2.5,"tickOpacity":{"condition":{"test":"datum.value>200","value":0},"value":1},"title":"Voltage (V)","titleX":-30.9,"titleY":49,"zindex":1}}},"layer":[{"data":{"name":"pts"},"transform":[{"filter":"datum.c==='dC' && datum.i>0"}],"mark":{"type":"area","color":"#d5d5d7","opacity":1},"encoding":{"y2":{"datum":0}}},{"data":{"name":"gd"},"transform":[{"filter":"datum.c==='dC'"}],"mark":{"type":"rule","color":"black","strokeWidth":1,"strokeDash":[2.5,1.5]},"encoding":{"x2":{"field":"f2"},"y2":{"field":"v2"}}},{"data":{"name":"pts"},"transform":[{"filter":"datum.c==='dC'"}],"mark":{"type":"line","color":"black","strokeWidth":2},"encoding":{"order":{"field":"i","type":"quantitative"}}}]},
{"width":213,"height":127,"encoding":{"x":{"field":"f","type":"quantitative","scale":{"domain":[0,1.5,3,60,120],"range":[75.3,85.3,96.3,151.3,167],"nice":false,"zero":false},"axis":{"values":[0,1.5,3,60,120],"format":".1~f","offset":-31.3,"title":"Frequency (Hz)","titleX":124.3,"titleY":15.5,"zindex":1,"labelOffset":{"condition":{"test":"datum.value===0","value":-6.5},"value":0}}},"y":{"field":"v","type":"quantitative","scale":{"domain":[0,20.1,40.3,575],"range":[95.7,87.7,74,10],"nice":false,"zero":false},"axis":{"values":[20.1,40.3,575],"labelExpr":"datum.value>200?format(datum.value,'d'):format(datum.value,'.1f')","offset":-75.3,"tickSize":2.5,"tickOpacity":{"condition":{"test":"datum.value>200","value":0},"value":1},"title":"Voltage (V)","titleX":-30.8,"titleY":50,"zindex":1}}},"layer":[{"data":{"name":"pts"},"transform":[{"filter":"datum.c==='dD' && datum.i>0"}],"mark":{"type":"area","color":"#d5d5d7","opacity":1},"encoding":{"y2":{"datum":0}}},{"data":{"name":"gd"},"transform":[{"filter":"datum.c==='dD'"}],"mark":{"type":"rule","color":"black","strokeWidth":1,"strokeDash":[2.5,1.5]},"encoding":{"x2":{"field":"f2"},"y2":{"field":"v2"}}},{"data":{"name":"pts"},"transform":[{"filter":"datum.c==='dD'"}],"mark":{"type":"line","color":"black","strokeWidth":2},"encoding":{"order":{"field":"i","type":"quantitative"}}}]},
{"width":213,"height":127,"encoding":{"x":{"field":"f","type":"quantitative","scale":{"domain":[0,1.5,3,60,180],"range":[72,82,93.7,148.7,164],"nice":false,"zero":false},"axis":{"values":[0,1.5,3,60,180],"format":".1~f","offset":-33,"title":"Frequency (Hz)","titleX":120.3,"titleY":15.5,"zindex":1,"labelOffset":{"condition":{"test":"datum.value===0","value":-6.5},"value":0}}},"y":{"field":"v","type":"quantitative","scale":{"domain":[0,20.1,40.3,575],"range":[94,86.3,73.3,8.3],"nice":false,"zero":false},"axis":{"values":[20.1,40.3,575],"labelExpr":"datum.value>200?format(datum.value,'d'):format(datum.value,'.1f')","offset":-72,"tickSize":2,"tickOpacity":{"condition":{"test":"datum.value>200","value":0},"value":1},"title":"Voltage (V)","titleX":-26.5,"titleY":49,"zindex":1}}},"layer":[{"data":{"name":"pts"},"transform":[{"filter":"datum.c==='dE' && datum.i>0"}],"mark":{"type":"area","color":"#d5d5d7","opacity":1},"encoding":{"y2":{"datum":0}}},{"data":{"name":"gd"},"transform":[{"filter":"datum.c==='dE'"}],"mark":{"type":"rule","color":"black","strokeWidth":1,"strokeDash":[2.5,1.5]},"encoding":{"x2":{"field":"f2"},"y2":{"field":"v2"}}},{"data":{"name":"pts"},"transform":[{"filter":"datum.c==='dE'"}],"mark":{"type":"line","color":"black","strokeWidth":2},"encoding":{"order":{"field":"i","type":"quantitative"}}}]},
{"width":213,"height":127,"encoding":{"x":{"field":"f","type":"quantitative","scale":{"domain":[0,1.5,3,60],"range":[79.3,91,104.3,165],"nice":false,"zero":false},"axis":{"values":[0,1.5,3,60],"format":".1~f","offset":-30.7,"title":"Frequency (Hz)","titleX":125.7,"titleY":15.5,"zindex":1,"labelOffset":{"condition":{"test":"datum.value===0","value":-6.5},"value":0}}},"y":{"field":"v","type":"quantitative","scale":{"domain":[0,20.1,40.3,575],"range":[96.3,88,74,9.7],"nice":false,"zero":false},"axis":{"values":[20.1,40.3,575],"labelExpr":"datum.value>200?format(datum.value,'d'):format(datum.value,'.1f')","offset":-79.3,"tickSize":2.5,"tickOpacity":{"condition":{"test":"datum.value>200","value":0},"value":1},"title":"Voltage (V)","titleX":-33.5,"titleY":52,"zindex":1}}},"layer":[{"data":{"name":"pts"},"transform":[{"filter":"datum.c==='dF' && datum.i>0"}],"mark":{"type":"area","color":"#d5d5d7","opacity":1},"encoding":{"y2":{"datum":0}}},{"data":{"name":"gd"},"transform":[{"filter":"datum.c==='dF'"}],"mark":{"type":"rule","color":"black","strokeWidth":1,"strokeDash":[2.5,1.5]},"encoding":{"x2":{"field":"f2"},"y2":{"field":"v2"}}},{"data":{"name":"pts"},"transform":[{"filter":"datum.c==='dF'"}],"mark":{"type":"line","color":"black","strokeWidth":2},"encoding":{"order":{"field":"i","type":"quantitative"}}}]}
]},
{"width":852,"height":127,"data":{"values":[]},"mark":"rect","view":{"stroke":null}},
{"width":852,"height":32,"data":{"values":[]},"mark":"rect","view":{"stroke":null}},
{"width":852,"height":18,"data":{"values":[]},"mark":"rect","view":{"stroke":null},"title":{"text":"Predefined V/f Patterns for Models 5A0099 to 5A0242","anchor":"start","frame":"group","fontSize":15,"offset":5.5}},
{"width":852,"height":2,"data":{"values":[]},"mark":"rect","view":{"stroke":null},"title":{"text":"Table 1.24\u00a0 Rated Torque Characteristics, Settings 0 to 3","anchor":"middle","frame":"group","offset":2.5}},
{"spacing":0,"bounds":"flush","hconcat":[
{"width":198,"height":23,"data":{"values":[{"k":"a","t":"Setting = 0"},{"k":"b","t":"50 Hz"}]},"encoding":{"x":{"field":"k","type":"nominal","scale":{"paddingInner":0,"paddingOuter":0},"axis":null}},"layer":[{"mark":{"type":"rect","filled":false,"color":"black","strokeWidth":1}},{"mark":{"type":"text","font":"Liberation Serif","fontSize":15,"color":"black","dy":0.5},"encoding":{"text":{"field":"t"}}}]},
{"width":218,"height":23,"data":{"values":[{"k":"a","t":"Setting = 1"},{"k":"b","t":"60 Hz"}]},"encoding":{"x":{"field":"k","type":"nominal","scale":{"paddingInner":0,"paddingOuter":0},"axis":null}},"layer":[{"mark":{"type":"rect","filled":false,"color":"black","strokeWidth":1}},{"mark":{"type":"text","font":"Liberation Serif","fontSize":15,"color":"black","dy":0.5},"encoding":{"text":{"field":"t"}}}]},
{"width":219,"height":23,"data":{"values":[{"k":"a","t":"Setting = 2"},{"k":"b","t":"60 Hz"}]},"encoding":{"x":{"field":"k","type":"nominal","scale":{"paddingInner":0,"paddingOuter":0},"axis":null}},"layer":[{"mark":{"type":"rect","filled":false,"color":"black","strokeWidth":1}},{"mark":{"type":"text","font":"Liberation Serif","fontSize":15,"color":"black","dy":0.5},"encoding":{"text":{"field":"t"}}}]},
{"width":217,"height":23,"data":{"values":[{"k":"a","t":"Setting = 3"},{"k":"b","t":"72 Hz"}]},"encoding":{"x":{"field":"k","type":"nominal","scale":{"paddingInner":0,"paddingOuter":0},"axis":null}},"layer":[{"mark":{"type":"rect","filled":false,"color":"black","strokeWidth":1}},{"mark":{"type":"text","font":"Liberation Serif","fontSize":15,"color":"black","dy":0.5},"encoding":{"text":{"field":"t"}}}]}
]},
{"width":852,"height":23,"data":{"values":[]},"mark":"rect","view":{"stroke":null}},
{"spacing":0,"bounds":"flush","hconcat":[
{"width":198,"height":126,"encoding":{"x":{"field":"f","type":"quantitative","scale":{"domain":[0,1.3,2.5,50],"range":[72.3,84,96.7,143.3],"nice":false,"zero":false},"axis":{"values":[0,1.3,2.5,50],"format":".1~f","offset":-29.5,"title":"Frequency (Hz)","titleX":108.3,"titleY":15.5,"zindex":1,"labelOffset":{"condition":{"test":"datum.value===0","value":-6.5},"value":0}}},"y":{"field":"v","type":"quantitative","scale":{"domain":[0,17.3,34.5,575],"range":[96.5,88.3,71.7,10.7],"nice":false,"zero":false},"axis":{"values":[17.3,34.5,575],"labelExpr":"datum.value>200?format(datum.value,'d'):format(datum.value,'.1f')","offset":-72.3,"tickSize":3.5,"tickOpacity":{"condition":{"test":"datum.value>200","value":0},"value":1},"title":"Voltage (V)","titleX":-18.5,"titleY":41,"zindex":1}}},"layer":[{"data":{"name":"pts"},"transform":[{"filter":"datum.c==='e0' && datum.i>0"}],"mark":{"type":"area","color":"#d5d5d7","opacity":1},"encoding":{"y2":{"datum":0}}},{"data":{"name":"gd"},"transform":[{"filter":"datum.c==='e0'"}],"mark":{"type":"rule","color":"black","strokeWidth":1,"strokeDash":[2.5,1.5]},"encoding":{"x2":{"field":"f2"},"y2":{"field":"v2"}}},{"data":{"name":"pts"},"transform":[{"filter":"datum.c==='e0'"}],"mark":{"type":"line","color":"black","strokeWidth":2},"encoding":{"order":{"field":"i","type":"quantitative"}}}]},
{"width":218,"height":126,"encoding":{"x":{"field":"f","type":"quantitative","scale":{"domain":[0,1.5,3,60],"range":[76.3,89.6,104.6,161.3],"nice":false,"zero":false},"axis":{"values":[0,1.5,3,60],"format":".1~f","offset":-29.5,"title":"Frequency (Hz)","titleX":118,"titleY":15.5,"zindex":1,"labelOffset":{"condition":{"test":"datum.value===0","value":-6.5},"value":0}}},"y":{"field":"v","type":"quantitative","scale":{"domain":[0,17.3,34.5,575],"range":[96.5,88.3,76,11.7],"nice":false,"zero":false},"axis":{"values":[17.3,34.5,575],"labelExpr":"datum.value>200?format(datum.value,'d'):format(datum.value,'.1f')","offset":-76.3,"tickSize":3.5,"tickOpacity":{"condition":{"test":"datum.value>200","value":0},"value":1},"title":"Voltage (V)","titleX":-18.5,"titleY":41,"zindex":1}}},"layer":[{"data":{"name":"pts"},"transform":[{"filter":"datum.c==='e1' && datum.i>0"}],"mark":{"type":"area","color":"#d5d5d7","opacity":1},"encoding":{"y2":{"datum":0}}},{"data":{"name":"gd"},"transform":[{"filter":"datum.c==='e1'"}],"mark":{"type":"rule","color":"black","strokeWidth":1,"strokeDash":[2.5,1.5]},"encoding":{"x2":{"field":"f2"},"y2":{"field":"v2"}}},{"data":{"name":"pts"},"transform":[{"filter":"datum.c==='e1'"}],"mark":{"type":"line","color":"black","strokeWidth":2},"encoding":{"order":{"field":"i","type":"quantitative"}}}]},
{"width":219,"height":126,"encoding":{"x":{"field":"f","type":"quantitative","scale":{"domain":[0,1.5,3,50,60],"range":[73.8,85.5,98.2,143.8,163.2],"nice":false,"zero":false},"axis":{"values":[0,1.5,3,50,60],"format":".1~f","offset":-30,"title":"Frequency (Hz)","titleX":120.5,"titleY":15.5,"zindex":1,"labelOffset":{"condition":{"test":"datum.value===0","value":-6.5},"value":0}}},"y":{"field":"v","type":"quantitative","scale":{"domain":[0,17.3,34.5,575],"range":[96,88.3,74.3,10],"nice":false,"zero":false},"axis":{"values":[17.3,34.5,575],"labelExpr":"datum.value>200?format(datum.value,'d'):format(datum.value,'.1f')","offset":-73.8,"tickSize":2,"tickOpacity":{"condition":{"test":"datum.value>200","value":0},"value":1},"title":"Voltage (V)","titleX":-19,"titleY":41,"zindex":1}}},"layer":[{"data":{"name":"pts"},"transform":[{"filter":"datum.c==='e2' && datum.i>0"}],"mark":{"type":"area","color":"#d5d5d7","opacity":1},"encoding":{"y2":{"datum":0}}},{"data":{"name":"gd"},"transform":[{"filter":"datum.c==='e2'"}],"mark":{"type":"rule","color":"black","strokeWidth":1,"strokeDash":[2.5,1.5]},"encoding":{"x2":{"field":"f2"},"y2":{"field":"v2"}}},{"data":{"name":"pts"},"transform":[{"filter":"datum.c==='e2'"}],"mark":{"type":"line","color":"black","strokeWidth":2},"encoding":{"order":{"field":"i","type":"quantitative"}}}]},
{"width":217,"height":126,"encoding":{"x":{"field":"f","type":"quantitative","scale":{"domain":[0,1.5,3,60,72],"range":[72.3,82.3,92.3,148.3,164],"nice":false,"zero":false},"axis":{"values":[0,1.5,3,60,72],"format":".1~f","offset":-30,"title":"Frequency (Hz)","titleX":120.6,"titleY":15.5,"zindex":1,"labelOffset":{"condition":{"test":"datum.value===0","value":-6.5},"value":0}}},"y":{"field":"v","type":"quantitative","scale":{"domain":[0,17.3,34.5,575],"range":[96,88.3,75,10],"nice":false,"zero":false},"axis":{"values":[17.3,34.5,575],"labelExpr":"datum.value>200?format(datum.value,'d'):format(datum.value,'.1f')","offset":-72.3,"tickSize":3,"tickOpacity":{"condition":{"test":"datum.value>200","value":0},"value":1},"title":"Voltage (V)","titleX":-20.8,"titleY":41,"zindex":1}}},"layer":[{"data":{"name":"pts"},"transform":[{"filter":"datum.c==='e3' && datum.i>0"}],"mark":{"type":"area","color":"#d5d5d7","opacity":1},"encoding":{"y2":{"datum":0}}},{"data":{"name":"gd"},"transform":[{"filter":"datum.c==='e3'"}],"mark":{"type":"rule","color":"black","strokeWidth":1,"strokeDash":[2.5,1.5]},"encoding":{"x2":{"field":"f2"},"y2":{"field":"v2"}}},{"data":{"name":"pts"},"transform":[{"filter":"datum.c==='e3'"}],"mark":{"type":"line","color":"black","strokeWidth":2},"encoding":{"order":{"field":"i","type":"quantitative"}}}]}
]},
{"width":852,"height":126,"data":{"values":[]},"mark":"rect","view":{"stroke":null}},
{"width":852,"height":200,"data":{"values":[]},"mark":"rect","view":{"stroke":null}},
{"spacing":0,"bounds":"flush","hconcat":[
{"width":368,"height":1,"data":{"values":[]},"mark":"rect","view":{"stroke":null},"title":{"text":"64","anchor":"start","frame":"group","fontSize":12,"offset":1.2}},
{"width":125,"height":1,"data":{"values":[]},"mark":"rect","view":{"stroke":null},"title":{"text":"YASKAWA ELECTRIC","anchor":"start","frame":"group","fontSize":11.5,"offset":1.2}},
{"width":359,"height":1,"data":{"values":[]},"mark":"rect","view":{"stroke":null},"title":{"text":"SIEP YAIZ1U 03A YASKAWA AC Drive – Z1000 Programming Manual","anchor":"end","frame":"group","fontSize":11.5,"fontWeight":"normal","offset":1.2}}
]},
{"width":852,"height":1,"data":{"values":[]},"mark":"rect","view":{"stroke":null}}
],
"config": {
"view": {"stroke": "black", "strokeWidth": 1},
"font": "Liberation Sans",
"title": {"font": "Liberation Sans", "fontWeight": "bold", "color": "black", "fontSize": 13.5, "offset": 3.5},
"axis": {"labelFont": "Liberation Sans", "labelFontSize": 8.6, "labelColor": "black", "titleFont": "Liberation Sans", "titleFontSize": 9.3, "titleFontWeight": "normal", "titleColor": "black", "domainColor": "black", "domainWidth": 1, "grid": false, "labelOverlap": false, "labelFlush": false, "titleBaseline": "middle", "titlePadding": 0},
"axisX": {"ticks": false, "tickSize": 0, "labelPadding": 1},
"axisY": {"tickDash": [2.5, 1.5], "tickColor": "black", "tickWidth": 1, "labelPadding": 0.5}
}
}
